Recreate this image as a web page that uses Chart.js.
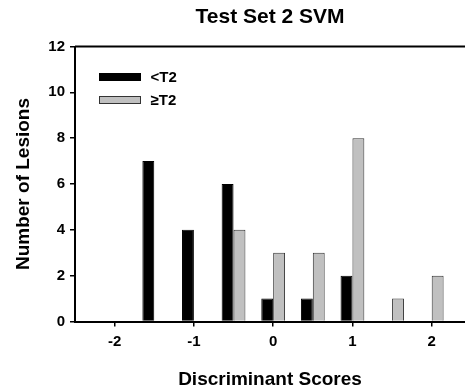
<!DOCTYPE html>
<html>
<head>
<meta charset="utf-8">
<script src="https://cdn.jsdelivr.net/npm/chart.js@4.4.1/dist/chart.umd.min.js"></script>
<style>
  html, body { margin: 0; padding: 0; background: #fff; }
  canvas { display: block; }
</style>
</head>
<body>
<canvas id="svmChart" width="465" height="389"></canvas>
<script>
// bin centres of the discriminant score histogram
const binCentres = [-1.5, -1, -0.5, 0, 0.5, 1, 1.5, 2];
// number of lesions per bin
const belowT2 = [7, 4, 6, 1, 1, 2, 0, 0];
const atOrAboveT2 = [0, 0, 4, 3, 3, 8, 1, 2];
const seriesLabels = ['<T2', '\u2265T2'];
const yTicks = [0, 2, 4, 6, 8, 10, 12];
const xTicks = [-2, -1, 0, 1, 2];

const fontFamily = "'Liberation Sans', Arial, Helvetica, sans-serif";
const black = '#000000';
const grey = '#c0c0c0';

// top frame line + legend drawn inside the plot area, top left
const framePlugin = {
    id: 'frame',
    afterDraw(chart) {
        const ctx = chart.ctx;
        const area = chart.chartArea;
        ctx.save();
        ctx.strokeStyle = black;
        ctx.lineWidth = 2;
        ctx.beginPath();
        ctx.moveTo(area.left, area.top);
        ctx.lineTo(area.right, area.top);
        ctx.stroke();

        chart.data.datasets.forEach((ds, i) => {
            const bx = area.left + 24.5;
            const by = area.top + 27 + i * 23;
            ctx.fillStyle = ds.backgroundColor;
            ctx.fillRect(bx, by, 41, 7);
            ctx.strokeStyle = ds.borderColor;
            ctx.lineWidth = 1;
            ctx.strokeRect(bx, by, 41, 7);
            ctx.fillStyle = black;
            ctx.font = 'bold 15px ' + fontFamily;
            ctx.textBaseline = 'middle';
            ctx.textAlign = 'left';
            ctx.fillText(ds.label, bx + 51, by + 4);
        });
        ctx.restore();
    }
};

const ctx = document.getElementById('svmChart');

new Chart(ctx, {
    type: 'bar',
    data: {
        labels: binCentres,
        datasets: [
            {
                label: seriesLabels[0],
                data: belowT2,
                backgroundColor: black,
                borderColor: black,
                borderWidth: 1
            },
            {
                label: seriesLabels[1],
                data: atOrAboveT2,
                backgroundColor: grey,
                borderColor: '#333333',
                borderWidth: 1
            }
        ]
    },
    options: {
        responsive: false,
        animation: false,
        devicePixelRatio: 1,
        categoryPercentage: 0.6,
        barPercentage: 1,
        layout: { padding: 0 },
        plugins: {
            legend: { display: false },
            tooltip: { enabled: false },
            title: {
                display: true,
                text: 'Test Set 2 SVM',
                fullSize: false,
                color: black,
                font: { family: fontFamily, size: 21, weight: 'bold', lineHeight: 1.2 },
                padding: { top: 5, bottom: 16.3 }
            }
        },
        scales: {
            x: {
                type: 'linear',
                offset: false,
                min: -2.5,
                max: 2.42,
                afterFit: (scale) => { scale.height = 67.5; },
                afterBuildTicks: (scale) => {
                    scale.ticks = xTicks.map(v => ({ value: v }));
                },
                border: { display: true, color: black, width: 2 },
                grid: { offset: false, drawOnChartArea: false, drawTicks: true, tickLength: 5, color: black, lineWidth: 1.5 },
                ticks: {
                    color: black,
                    padding: 6,
                    font: { family: fontFamily, size: 15, weight: 'bold' }
                },
                title: {
                    display: true,
                    text: 'Discriminant Scores',
                    color: black,
                    font: { family: fontFamily, size: 19, weight: 'bold', lineHeight: 1 },
                    padding: { top: 15, bottom: 0 }
                }
            },
            y: {
                min: 0,
                max: 12,
                afterFit: (scale) => { scale.width = 75; },
                afterBuildTicks: (scale) => {
                    scale.ticks = yTicks.map(v => ({ value: v }));
                },
                border: { display: true, color: black, width: 2 },
                grid: { drawOnChartArea: false, drawTicks: true, tickLength: 5, color: black, lineWidth: 1.5 },
                ticks: {
                    color: black,
                    padding: 5,
                    font: { family: fontFamily, size: 15, weight: 'bold' }
                },
                title: {
                    display: true,
                    text: 'Number of Lesions',
                    color: black,
                    font: { family: fontFamily, size: 19, weight: 'bold', lineHeight: 1 },
                    padding: { top: 14, bottom: 0 }
                }
            }
        }
    },
    plugins: [framePlugin]
});
</script>
</body>
</html>
